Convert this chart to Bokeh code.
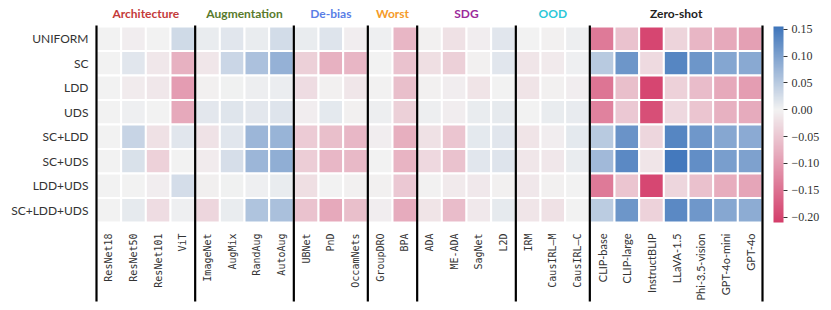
from bokeh.plotting import figure
from bokeh.models import ColumnDataSource, LinearColorMapper, ColorBar, FixedTicker
from bokeh.transform import transform
from bokeh.core.properties import value
from bokeh.embed import file_html
from bokeh.resources import INLINE

# ---------------- data ----------------
groups = ["Architecture", "Augmentation", "De-bias", "Worst", "SDG", "OOD", "Zero-shot"]
group_sizes = [4, 4, 3, 2, 4, 3, 7]
group_colors = ["#c43a3a", "#587a2c", "#5a7ee6", "#f59a28", "#9b2a9b", "#2cc8d8", "#222222"]
models = ["ResNet18", "ResNet50", "ResNet101", "ViT",
          "ImageNet", "AugMix", "RandAug", "AutoAug",
          "UBNet", "PnD", "OccamNets",
          "GroupDRO", "BPA",
          "ADA", "ME-ADA", "SagNet", "L2D",
          "IRM", "CausIRL\u2013M", "CausIRL\u2013C",
          "CLIP-base", "CLIP-large", "InstructBLIP", "LLaVA-1.5", "Phi-3.5-vision", "GPT-4o-mini", "GPT-4o"]
rows = ["UNIFORM", "SC", "LDD", "UDS", "SC+LDD", "SC+UDS", "LDD+UDS", "SC+LDD+UDS"]

uniform    = [0.0, -0.005, 0.0, 0.03,   0.008, 0.015, 0.007, 0.027,   0.008, 0.017, -0.005,   0.003, -0.07,
              -0.003, -0.02, -0.005, 0.015,   0.0, -0.002, 0.004,
              -0.14, -0.055, -0.2, -0.035, -0.07, -0.085, -0.095]
sc         = [0.0, 0.015, -0.012, -0.075,   -0.014, 0.035, 0.06, 0.08,   -0.04, -0.075, -0.07,   0.0, -0.055,
              -0.022, -0.04, -0.002, 0.015,   -0.016, -0.01, 0.003,
              0.05, 0.115, -0.028, 0.135, 0.115, 0.095, 0.09]
ldd        = [0.0, -0.008, -0.012, -0.1,   -0.003, 0.002, 0.004, 0.006,   -0.025, -0.003, -0.014,   -0.001, -0.06,
              -0.002, -0.005, -0.017, 0.0,   -0.017, -0.003, -0.006,
              -0.145, -0.06, -0.2, -0.038, -0.062, -0.085, -0.098]
uds        = [0.0, 0.003, 0.0, -0.085,   0.013, 0.016, 0.013, 0.017,   -0.005, 0.012, -0.003,   0.004, -0.04,
              0.005, -0.005, 0.008, 0.01,   0.0, 0.007, 0.009,
              -0.13, -0.048, -0.19, -0.03, -0.053, -0.075, -0.082]
sc_ldd     = [0.0, 0.038, -0.02, 0.014,   -0.018, 0.015, 0.075, 0.077,   -0.045, -0.06, -0.068,   -0.005, -0.078,
              -0.02, -0.052, 0.011, 0.015,   -0.017, -0.005, 0.012,
              0.05, 0.117, -0.033, 0.135, 0.113, 0.093, 0.088]
sc_uds     = [0.0, 0.022, -0.038, 0.0,   -0.008, 0.025, 0.074, 0.085,   -0.043, -0.068, -0.067,   0.0, -0.073,
              -0.03, -0.055, 0.015, 0.018,   -0.014, -0.012, 0.008,
              0.07, 0.13, -0.015, 0.15, 0.125, 0.105, 0.1]
ldd_uds    = [0.0, 0.0, -0.006, 0.026,   -0.004, 0.002, 0.003, 0.007,   -0.023, 0.0, -0.002,   -0.003, -0.048,
              -0.001, -0.01, -0.011, -0.002,   -0.012, -0.002, 0.0,
              -0.14, -0.052, -0.198, -0.033, -0.057, -0.08, -0.09]
sc_ldd_uds = [0.0, 0.01, -0.025, 0.003,   -0.033, 0.008, 0.057, 0.062,   -0.055, -0.085, -0.06,   -0.005, -0.082,
              -0.017, -0.062, -0.011, 0.01,   -0.015, -0.02, 0.0,
              0.048, 0.115, -0.037, 0.13, 0.113, 0.093, 0.087]
row_values = [uniform, sc, ldd, uds, sc_ldd, sc_uds, ldd_uds, sc_ldd_uds]

cbar_ticks = [-0.20, -0.15, -0.10, -0.05, 0.0, 0.05, 0.10, 0.15]
cbar_labels = ["\u22120.20", "\u22120.15", "\u22120.10", "\u22120.05", "0.00", "0.05", "0.10", "0.15"]
vmin, vmax = -0.21, 0.155

# ---------------- layout constants ----------------
W, H = 828, 308
LEFT, TOP = 96, 26          # heatmap offset (px) inside figure
CW = 666 / 27.0             # px per column
RH = 24.5                   # px per row
ncols, nrows = len(models), len(rows)

x_start = -LEFT / CW
x_end = x_start + W / CW
y_end = nrows + TOP / RH
y_start = y_end - H / RH
heat_bottom_px = TOP + nrows * RH

# ---------------- colormap ----------------
neg = (212, 61, 106)
mid = (242, 242, 242)
pos = (62, 117, 187)
palette = []
N = 256
for i in range(N):
    v = vmin + (i + 0.5) / N * (vmax - vmin)
    if v < 0:
        t = v / vmin
        c = tuple(round(mid[k] + t * (neg[k] - mid[k])) for k in range(3))
    else:
        t = v / vmax
        c = tuple(round(mid[k] + t * (pos[k] - mid[k])) for k in range(3))
    palette.append("#%02x%02x%02x" % c)
mapper = LinearColorMapper(palette=palette, low=vmin, high=vmax)

# ---------------- figure ----------------
p = figure(width=W, height=H, x_range=(x_start, x_end), y_range=(y_start, y_end),
           output_backend="svg", toolbar_location=None,
           min_border_left=0, min_border_right=0, min_border_top=0, min_border_bottom=0)
p.xaxis.visible = False
p.yaxis.visible = False
p.xgrid.visible = False
p.ygrid.visible = False
p.outline_line_color = None
p.background_fill_color = "white"

xs, ys, vs = [], [], []
for r, vals in enumerate(row_values):
    for c, v in enumerate(vals):
        xs.append(c + 0.5)
        ys.append(nrows - r - 0.5)
        vs.append(v)
src = ColumnDataSource(dict(x=xs, y=ys, v=vs))
p.rect(x="x", y="y", width=1, height=1, source=src,
       fill_color=transform("v", mapper), line_color="white", line_width=2)

# group separators
bounds = [0]
for s in group_sizes:
    bounds.append(bounds[-1] + s)
line_bottom = -(301 - heat_bottom_px) / RH
p.segment(x0=bounds, y0=[nrows + 1 / RH] * len(bounds), x1=bounds, y1=[line_bottom] * len(bounds),
          line_color="black", line_width=2.2)

# group titles
centers = [(bounds[i] + bounds[i + 1]) / 2 for i in range(len(groups))]
p.text(x=centers, y=[nrows + 13 / RH] * len(groups), text=groups, text_color=group_colors,
       text_font=value("Lato"), text_font_style="bold", text_font_size="12px",
       text_align="center", text_baseline="middle")

# row labels
p.text(x=[-8 / CW] * nrows, y=[nrows - r - 0.5 for r in range(nrows)], text=rows,
       text_font=value("Lato"), text_font_size="12px", text_color="#333333",
       text_align="right", text_baseline="middle")

# column labels
zs = bounds[-2]
label_y = -(11 / RH)
p.text(x=[c + 0.5 for c in range(zs)], y=[label_y] * zs, text=models[:zs], angle=1.5707963,
       text_font=value("DejaVu Sans Mono"), text_font_size="10px", text_color="#333333",
       text_align="right", text_baseline="middle")
p.text(x=[c + 0.5 for c in range(zs, ncols)], y=[label_y] * (ncols - zs), text=models[zs:],
       angle=1.5707963, text_font=value("Lato"), text_font_size="11px", text_color="#333333",
       text_align="right", text_baseline="middle")

# colour bar
cb = ColorBar(color_mapper=mapper, width=10, height=int(nrows * RH),
              location=(773, H - TOP - int(nrows * RH)),
              padding=0, margin=0, border_line_color=None, background_fill_alpha=0,
              ticker=FixedTicker(ticks=cbar_ticks),
              major_label_overrides={t: l for t, l in zip(cbar_ticks, cbar_labels)},
              major_label_text_font="Liberation Serif", major_label_text_font_size="12px",
              major_label_text_color="#333333",
              major_tick_line_color="#333333", major_tick_out=4, major_tick_in=0,
              minor_tick_line_color=None, bar_line_color=None, label_standoff=4)
p.add_layout(cb)

open("out.html", "w").write(file_html(p, INLINE))
